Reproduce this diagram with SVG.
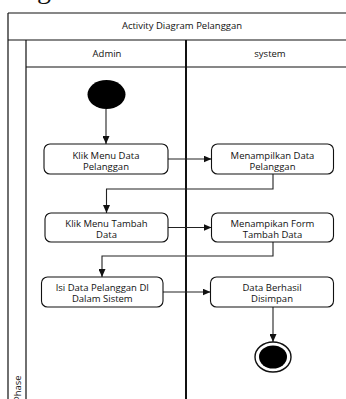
<svg xmlns="http://www.w3.org/2000/svg" width="346" height="399" viewBox="0 0 346 399">
  <style>
    .frame { fill: none; stroke: #111; stroke-width: 1.2; }
    .divider { fill: none; stroke: #111; stroke-width: 2; }
    .act { fill: #fff; stroke: #111; stroke-width: 1.1; }
    .lbl { font-family: "Open Sans", "Liberation Sans", sans-serif; font-size: 9.5px; fill: #111; text-anchor: middle; }
    .flow { fill: none; stroke: #222; stroke-width: 1.1; }
  </style>
  <defs>
    <marker id="arrow" markerWidth="8" markerHeight="7" refX="8" refY="3.5" orient="auto" markerUnits="userSpaceOnUse">
      <path d="M0,0 L8,3.5 L0,7 Z" fill="#111"/>
    </marker>
  </defs>
  <rect width="346" height="399" fill="#fff"/>

  <!-- descender of a caption glyph above the frame -->
  <text x="37" y="-2" font-family="Liberation Serif, serif" font-size="28" fill="#111">g</text>

  <!-- swimlane frame -->
  <g id="swimlanes">
    <path class="frame" d="M8,13 H346 M8,13 V399 M8,40 H346 M26,40 V399 M26,67 H346"/>
    <path class="divider" d="M186,40 V399"/>
    <text class="lbl" x="182" y="28.5">Activity Diagram Pelanggan</text>
    <text class="lbl" x="107" y="57">Admin</text>
    <text class="lbl" x="270" y="57">system</text>
    <text class="lbl" transform="translate(20.5,402) rotate(-90)" style="text-anchor:start">Phase</text>
  </g>

  <!-- connectors -->
  <g id="connectors">
    <path class="flow" d="M106,109 V144" marker-end="url(#arrow)"/>
    <path class="flow" d="M168,159 H211.5" marker-end="url(#arrow)"/>
    <path class="flow" d="M273,174 V189 H106.5 V213" marker-end="url(#arrow)"/>
    <path class="flow" d="M168,227.5 H211.5" marker-end="url(#arrow)"/>
    <path class="flow" d="M273,242 V256 H102 V277" marker-end="url(#arrow)"/>
    <path class="flow" d="M163,292 H210.5" marker-end="url(#arrow)"/>
    <path class="flow" d="M273,307 V342" marker-end="url(#arrow)"/>
  </g>

  <!-- initial node -->
  <g id="start">
    <ellipse cx="106.5" cy="94.5" rx="19" ry="14.5" fill="#000"/>
  </g>

  <g id="klik-menu-data">
    <rect class="act" x="44" y="144" width="124" height="30" rx="6"/>
    <text class="lbl" x="106" y="158.5">Klik Menu Data</text>
    <text class="lbl" x="106" y="170">Pelanggan</text>
  </g>

  <g id="menampilkan-data">
    <rect class="act" x="211.5" y="144" width="122" height="30" rx="6"/>
    <text class="lbl" x="272.5" y="158.5">Menampilkan Data</text>
    <text class="lbl" x="272.5" y="170">Pelanggan</text>
  </g>

  <g id="klik-menu-tambah">
    <rect class="act" x="45" y="213" width="123" height="29" rx="6"/>
    <text class="lbl" x="106.5" y="226.5">Klik Menu Tambah</text>
    <text class="lbl" x="106.5" y="238">Data</text>
  </g>

  <g id="menampilkan-form">
    <rect class="act" x="211.5" y="213" width="122" height="29" rx="6"/>
    <text class="lbl" x="272.5" y="226.5">Menampikan Form</text>
    <text class="lbl" x="272.5" y="238">Tambah Data</text>
  </g>

  <g id="isi-data">
    <rect class="act" x="41.5" y="277" width="121.5" height="30" rx="6"/>
    <text class="lbl" x="102.3" y="290.5">Isi Data Pelanggan DI</text>
    <text class="lbl" x="102.3" y="302">Dalam Sistem</text>
  </g>

  <g id="data-berhasil">
    <rect class="act" x="210.5" y="277" width="123" height="30" rx="6"/>
    <text class="lbl" x="272" y="290.5">Data Berhasil</text>
    <text class="lbl" x="272" y="302">Disimpan</text>
  </g>

  <!-- final node -->
  <g id="end">
    <ellipse cx="273" cy="357" rx="18" ry="15" fill="#fff" stroke="#111" stroke-width="1.4"/>
    <ellipse cx="273" cy="357" rx="14" ry="11.5" fill="#000"/>
  </g>
</svg>
